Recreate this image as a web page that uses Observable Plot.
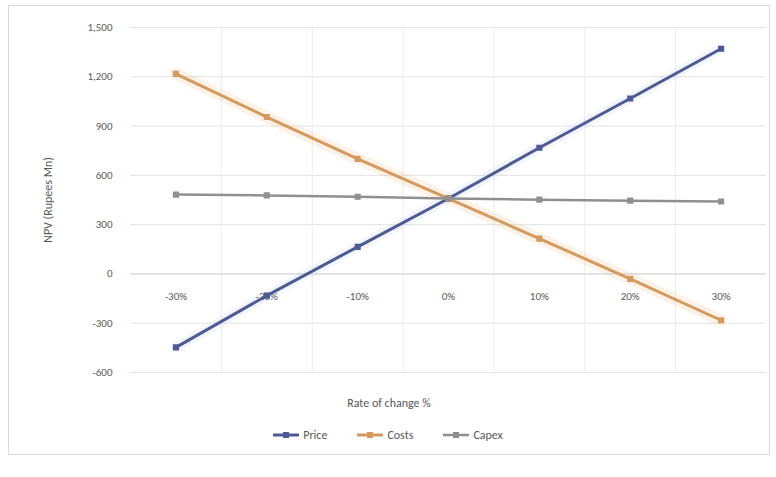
<!DOCTYPE html>
<html>
<head>
<meta charset="utf-8">
<script src="https://cdn.jsdelivr.net/npm/d3@7"></script>
<script src="https://cdn.jsdelivr.net/npm/@observablehq/plot@0.6"></script>
<style>
  body { margin: 0; background: #fff; font-family: Calibri, Carlito, "Liberation Sans", Arial, sans-serif; }
  #wrap { position: relative; width: 776px; height: 477px; }
  #border { position: absolute; left: 8px; top: 5px; width: 762px; height: 450px; border: 1px solid #d9d9d9; box-sizing: border-box; pointer-events: none; }
  #chart { position: absolute; left: 0; top: 0; }
  .ttl { position: absolute; color: #595959; font-size: 12px; white-space: nowrap; }
  #ytitle { left: 48px; top: 200px; transform: translate(-50%, -50%) rotate(-90deg); }
  #xtitle { left: 389px; top: 403px; transform: translate(-50%, -50%); }
  #legend { position: absolute; left: 0; width: 776px; top: 428px; display: flex; justify-content: center; gap: 30px; font-size: 12px; color: #595959; box-sizing: border-box; }
  .item { display: flex; align-items: center; gap: 4px; }
</style>
</head>
<body>
<div id="wrap">
  <div id="chart"></div>
  <div id="border"></div>
  <div id="ytitle" class="ttl">NPV (Rupees Mn)</div>
  <div id="xtitle" class="ttl">Rate of change %</div>
  <div id="legend"></div>
</div>
<script>
const changes = [-30, -20, -10, 0, 10, 20, 30];
const changeLabels = ["-30%", "-20%", "-10%", "0%", "10%", "20%", "30%"];
const seriesNames = ["Price", "Costs", "Capex"];
const priceValues = [-447, -132, 165, 459, 768, 1068, 1371];
const costsValues = [1218, 955, 700, 459, 215, -30, -282];
const capexValues = [483, 478, 470, 459, 452, 446, 441];
const yTicks = [-600, -300, 0, 300, 600, 900, 1200, 1500];
const seriesColors = ["#4f5994", "#d49a60", "#8f8f8f"];

const allValues = [priceValues, costsValues, capexValues];
const data = [];
seriesNames.forEach((s, i) => changes.forEach((c, j) => data.push({series: s, change: c, value: allValues[i][j]})));
const boundaries = changes.slice(0, -1).map(c => c + 5);

const chart = Plot.plot({
  width: 776,
  height: 420,
  marginLeft: 130,
  marginRight: 10,
  marginTop: 27,
  marginBottom: 48,
  style: {fontFamily: "Calibri, Carlito, 'Liberation Sans', Arial, sans-serif", fontSize: "11px", color: "#595959", background: "transparent"},
  x: {domain: [-35, 35], axis: null},
  y: {domain: [-600, 1500], axis: null},
  color: {domain: seriesNames, range: seriesColors},
  marks: [
    Plot.ruleY(yTicks, {stroke: "#e3e3e3", strokeWidth: 1}),
    Plot.ruleX(boundaries, {stroke: "#ececec", strokeWidth: 1}),
    Plot.ruleY([0], {stroke: "#d4d4d4", strokeWidth: 1}),
    Plot.axisY({ticks: yTicks, tickSize: 0, tickPadding: 18, tickFormat: d => d3.format(",")(d).replace("\u2212", "-"), label: null, fill: "#595959"}),
    Plot.text(changes, {x: d => d, y: 0, dy: 23, text: (d, i) => changeLabels[i], fill: "#595959", fontSize: 11}),
    Plot.line(data.filter(d => d.series === "Costs"), {x: "change", y: "value", stroke: "#f3b97a", strokeWidth: 12, strokeOpacity: 0.18}),
    Plot.line(data.filter(d => d.series === "Price"), {x: "change", y: "value", stroke: "#9fc5ee", strokeWidth: 10, strokeOpacity: 0.15}),
    Plot.line(data, {x: "change", y: "value", z: "series", stroke: "series", strokeWidth: d => d.series === "Capex" ? 2.5 : 3}),
    Plot.dot(data, {x: "change", y: "value", fill: "series", stroke: "series", symbol: "square", r: 2.6})
  ]
});
document.getElementById("chart").appendChild(chart);

const legend = document.getElementById("legend");
seriesNames.forEach((s, i) => {
  const item = document.createElement("div");
  item.className = "item";
  item.innerHTML = `<svg width="26" height="8"><line x1="0" y1="4" x2="26" y2="4" stroke="${seriesColors[i]}" stroke-width="${i === 2 ? 2.5 : 3}"/><rect x="10" y="1" width="6" height="6" fill="${seriesColors[i]}"/></svg><span>${s}</span>`;
  legend.appendChild(item);
});
</script>
</body>
</html>
